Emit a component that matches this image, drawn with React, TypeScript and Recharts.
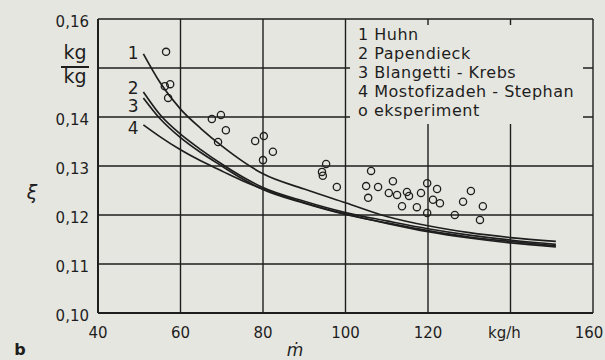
import React from 'react';
import {
  ComposedChart,
  Line,
  Scatter,
  XAxis,
  YAxis,
  CartesianGrid,
  Legend,
  ReferenceDot,
  Label,
} from 'recharts';

// ---- data ----
const xTicks = [40, 60, 80, 100, 120, 140, 160];
const yTicks = [0.1, 0.11, 0.12, 0.13, 0.14, 0.15, 0.16];

const curveX = [51, 55, 60, 65, 70, 75, 80, 90, 100, 110, 120, 130, 140, 151];
const huhnY = [0.1529, 0.1471, 0.1416, 0.1376, 0.1341, 0.131, 0.1284, 0.1253, 0.1225, 0.1197, 0.1178, 0.1164, 0.1154, 0.1146];
const papendieckY = [0.1451, 0.1405, 0.1365, 0.1333, 0.1304, 0.1278, 0.1256, 0.1228, 0.1205, 0.1188, 0.1172, 0.1159, 0.1149, 0.114];
const blangettiY = [0.1439, 0.1397, 0.1358, 0.1327, 0.13, 0.1274, 0.1252, 0.1224, 0.1201, 0.1184, 0.1168, 0.1155, 0.1146, 0.1137];
const mostofizadehY = [0.1384, 0.136, 0.1333, 0.131, 0.129, 0.127, 0.1253, 0.1225, 0.1202, 0.1183, 0.1166, 0.1153, 0.1143, 0.1135];

const expX = [56.5, 56.2, 57.5, 57.0, 67.6, 69.8, 71.0, 69.1, 78.1, 80.2, 82.4, 80.0, 95.3, 94.3, 94.5, 97.9, 106.2, 105.0, 107.9, 105.5, 111.5, 110.5, 112.5, 114.9, 115.4, 118.3, 113.7, 117.3, 119.8, 119.8, 122.2, 121.2, 122.9, 126.5, 128.5, 130.4, 133.3, 132.6];
const expY = [0.1533, 0.1463, 0.1467, 0.1439, 0.1396, 0.1404, 0.1373, 0.1349, 0.1351, 0.1361, 0.1329, 0.1312, 0.1304, 0.1288, 0.128, 0.1257, 0.129, 0.1259, 0.1257, 0.1235, 0.1269, 0.1245, 0.1241, 0.1247, 0.1239, 0.1245, 0.1218, 0.1216, 0.1204, 0.1265, 0.1253, 0.1231, 0.1224, 0.12, 0.1227, 0.1249, 0.1218, 0.119];

const curveNumbers = ['1', '2', '3', '4'];
const curveNames = ['Huhn', 'Papendieck', 'Blangetti - Krebs', 'Mostofizadeh - Stephan'];
const curveLabelX = 48.5;
const curveLabelY = [0.1531, 0.1459, 0.1422, 0.1378];
const experimentName = 'eksperiment';

// ---- helpers ----
const BG = '#e6e6e0';
const INK = '#1e1e1e';
const FONT = '"DejaVu Sans", sans-serif';

const pts = (ys: number[]) => curveX.map((x, i) => ({ x, y: ys[i] }));
const series = [huhnY, papendieckY, blangettiY, mostofizadehY].map(pts);
const expData = expX.map((x, i) => ({ x, y: expY[i] }));

const fmtY = (v: number) => v.toFixed(2).replace('.', ',');

const YTick = (props: any) => {
  const { x, y, payload } = props;
  const v = payload.value as number;
  if (Math.abs(v - 0.15) < 1e-6) {
    const cx = x - 14;
    return (
      <g fontFamily={FONT} fill={INK}>
        <text x={cx} y={y - 9} textAnchor="middle" fontSize={19}>kg</text>
        <line x1={cx - 14} x2={cx + 14} y1={y - 1} y2={y - 1} stroke={INK} strokeWidth={2} />
        <text x={cx} y={y + 15} textAnchor="middle" fontSize={19}>kg</text>
      </g>
    );
  }
  return (
    <text x={x} y={y} dy={8} textAnchor="end" fontSize={15} fontFamily={FONT} fill={INK}>
      {fmtY(v)}
    </text>
  );
};

const XTick = (props: any) => {
  const { x, y, payload } = props;
  const v = payload.value as number;
  const isUnit = v === 140;
  const shift = isUnit ? -6 : v === 160 ? -4 : 0;
  return (
    <text x={x + shift} y={y} dy={11} textAnchor="middle" fontSize={15} fontFamily={FONT} fill={INK}>
      {isUnit ? 'kg/h' : String(v)}
    </text>
  );
};

const Circle = (props: any) => {
  const { cx, cy } = props;
  if (cx == null || cy == null) return null;
  return <circle cx={cx} cy={cy} r={3.6} fill="none" stroke={INK} strokeWidth={1.3} />;
};

const renderLegend = () => (
  <div
    style={{
      background: BG,
      width: 233,
      height: 99,
      boxSizing: 'border-box',
      paddingLeft: 8,
      fontFamily: FONT,
      fontSize: 16,
      letterSpacing: '0.5px',
      lineHeight: '19px',
      color: INK,
      whiteSpace: 'nowrap',
    }}
  >
    {curveNames.map((n, i) => (
      <div key={n}>{curveNumbers[i] + ' ' + n}</div>
    ))}
    <div>{'o ' + experimentName}</div>
  </div>
);

const XiLabel = (props: any) => {
  const vb = props.viewBox || {};
  return (
    <text x={(vb.x || 0) + 32} y={(vb.y || 0) + vb.height * 0.592} dy={6} textAnchor="middle" fontSize={19} fontStyle="italic" fontFamily={FONT} fill={INK}>
      ξ
    </text>
  );
};

const MdotLabel = (props: any) => {
  const vb = props.viewBox || {};
  return (
    <g fontFamily={FONT} fill={INK}>
      <text x={(vb.x || 0) + 197} y={356} textAnchor="middle" fontSize={17} fontStyle="italic">ṁ</text>
      <text x={20} y={355} textAnchor="middle" fontSize={16} fontWeight="bold">b</text>
    </g>
  );
};

export default function App() {
  return (
    <div style={{ position: 'absolute', left: 0, top: 0, width: 605, height: 360, background: BG }}>
      <ComposedChart width={605} height={360} margin={{ top: 19, right: 12, left: 0, bottom: 0 }}>
        <CartesianGrid stroke={INK} strokeWidth={1.4} />
        <XAxis
          type="number"
          dataKey="x"
          domain={[40, 160]}
          ticks={xTicks}
          interval={0}
          height={47}
          tickLine={false}
          tickMargin={8}
          axisLine={{ stroke: INK, strokeWidth: 2 }}
          tick={<XTick />}
          allowDataOverflow
        >
          <Label content={<MdotLabel />} />
        </XAxis>
        <YAxis
          type="number"
          dataKey="y"
          domain={[0.1, 0.16]}
          ticks={yTicks}
          interval={0}
          width={98}
          tickLine={false}
          tickMargin={3}
          axisLine={{ stroke: INK, strokeWidth: 2 }}
          tick={<YTick />}
          allowDataOverflow
        >
          <Label content={<XiLabel />} />
        </YAxis>
        {series.map((d, i) => (
          <Line
            key={curveNames[i]}
            data={d}
            dataKey="y"
            type="monotone"
            stroke={INK}
            strokeWidth={1.7}
            dot={false}
            activeDot={false}
            isAnimationActive={false}
            name={curveNames[i]}
          />
        ))}
        <Scatter data={expData} dataKey="y" shape={<Circle />} isAnimationActive={false} name={experimentName} />
        {curveNumbers.map((n, i) => (
          <ReferenceDot
            key={n}
            x={curveLabelX}
            y={curveLabelY[i]}
            r={0}
            ifOverflow="visible"
            shape={(p: any) => (
              <text x={p.cx} y={p.cy} dy={6} textAnchor="middle" fontSize={17} fontFamily={FONT} fill={INK}>
                {n}
              </text>
            )}
          />
        ))}
        <Legend
          layout="vertical"
          align="center"
          verticalAlign="middle"
          content={renderLegend}
          wrapperStyle={{ left: 350, top: 25, width: 233, height: 99 }}
        />
      </ComposedChart>
    </div>
  );
}
